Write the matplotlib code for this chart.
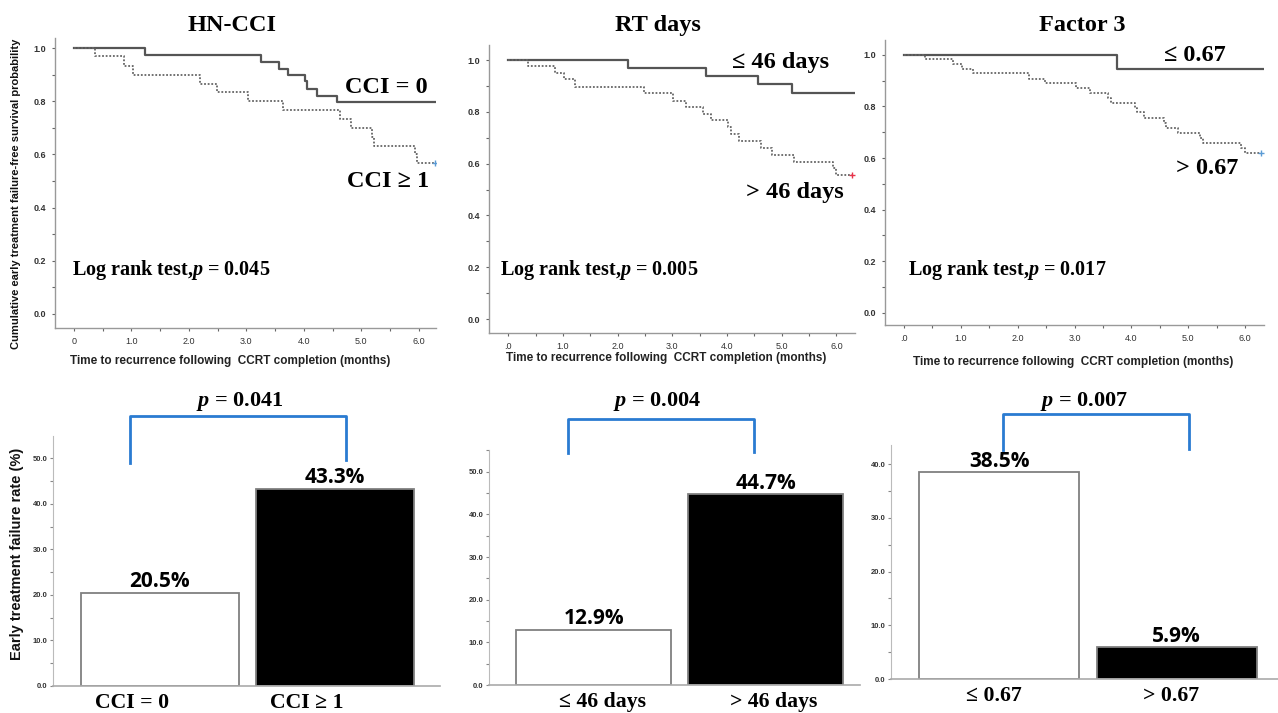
import numpy as np
import matplotlib.pyplot as plt
from matplotlib.lines import Line2D

plt.rcParams["mathtext.fontset"] = "custom"
plt.rcParams["mathtext.it"] = "Liberation Serif:italic:bold"
plt.rcParams["mathtext.rm"] = "Liberation Serif:bold"
plt.rcParams["mathtext.bf"] = "Liberation Serif:bold"

# Kaplan-Meier step data (time in months, survival probability)
hn_cci0_t = [0, 1.23, 3.26, 3.57, 3.73, 4.02, 4.06, 4.23, 4.57]
hn_cci0_s = [1.0, 0.974, 0.948, 0.922, 0.899, 0.876, 0.846, 0.82, 0.797]
hn_cci1_t = [0, 0.37, 0.87, 1.02, 2.2, 2.49, 3.02, 3.64, 4.63, 4.82, 5.19, 5.22, 5.93, 5.97]
hn_cci1_s = [1.0, 0.969, 0.934, 0.90, 0.866, 0.833, 0.80, 0.766, 0.733, 0.70, 0.666, 0.633, 0.60, 0.566]

rt_le_t = [0, 2.19, 3.62, 4.57, 5.19]
rt_le_s = [1.0, 0.969, 0.938, 0.907, 0.874]
rt_gt_t = [0, 0.37, 0.85, 1.02, 1.22, 2.48, 3.01, 3.26, 3.56, 3.71, 4.02, 4.07, 4.22, 4.63, 4.83, 5.23, 5.94, 5.99]
rt_gt_s = [1.0, 0.977, 0.951, 0.925, 0.896, 0.871, 0.843, 0.817, 0.792, 0.768, 0.74, 0.713, 0.687, 0.662, 0.633, 0.607, 0.582, 0.556]

f3_le_t = [0, 3.74]
f3_le_s = [1.0, 0.946]
f3_gt_t = [0, 0.37, 0.87, 1.02, 1.22, 2.2, 2.49, 3.03, 3.27, 3.59, 3.65, 4.06, 4.09, 4.23, 4.57, 4.61, 4.82, 5.2, 5.25, 5.93, 5.99]
f3_gt_s = [1.0, 0.983, 0.966, 0.946, 0.928, 0.907, 0.89, 0.871, 0.851, 0.832, 0.812, 0.793, 0.777, 0.754, 0.735, 0.715, 0.699, 0.677, 0.66, 0.638, 0.618]

# end of follow-up (solid line end, censored mark on dotted line)
solid_end = [6.3, 6.34, 6.33]
censor_end = [6.28, 6.28, 6.28]

# Bar chart data (early treatment failure rate, %)
hn_labels = ["CCI = 0", "CCI \u2265 1"]
hn_rates = [20.5, 43.3]
rt_labels = ["\u2264 46 days", "> 46 days"]
rt_rates = [12.9, 44.7]
f3_labels = ["\u2264 0.67", "> 0.67"]
f3_rates = [38.5, 5.9]

titles = ["HN-CCI", "RT days", "Factor 3"]
km_pvals = ["0.045", "0.005", "0.017"]
bar_pvals = ["0.041", "0.004", "0.007"]

W, H = 1278, 713
fig = plt.figure(figsize=(W / 100, H / 100), dpi=100)

SERIF = dict(family="Liberation Serif", weight="bold")
SANS = dict(family="Liberation Sans", weight="bold")
BLUE = "#2a7bd1"


def px_axes(l, t, r, b):
    return fig.add_axes([l / W, 1 - b / H, (r - l) / W, (b - t) / H])


def ftext(x, y, s, **kw):
    fig.text(x / W, 1 - y / H, s, **kw)


def km_panel(box, xlim, ylim, ta, sa, tb, sb, end_a, end_b, cens_color, zero_lab):
    ax = px_axes(*box)
    ax.step(ta + [end_a], sa + [sa[-1]], where="post", color="#555555", lw=1.6)
    ax.step(tb + [end_b], sb + [sb[-1]], where="post", color="#666666", lw=1.3,
            ls=(0, (1, 1)))
    ax.plot(end_b, sb[-1], marker="+", color=cens_color, ms=5, mew=1)
    ax.set_xlim(xlim)
    ax.set_ylim(ylim)
    ax.set_xticks(range(7))
    ax.set_xticklabels([zero_lab] + ["%.1f" % v for v in range(1, 7)])
    ax.set_xticks(np.arange(0.5, 6.5, 1), minor=True)
    ax.set_yticks(np.arange(0, 1.01, 0.2))
    ax.set_yticks(np.arange(0.1, 1.0, 0.2), minor=True)
    ax.yaxis.set_major_formatter("{x:.1f}")
    for s in ["top", "right"]:
        ax.spines[s].set_visible(False)
    for s in ["left", "bottom"]:
        ax.spines[s].set_color("#999999")
        ax.spines[s].set_linewidth(1.0)
    ax.tick_params(which="both", direction="out", length=2.5, width=0.8,
                   color="#666666", labelsize=6.5, labelcolor="#333333", pad=4)
    for lab in ax.get_xticklabels() + ax.get_yticklabels():
        lab.set_fontfamily("Liberation Sans")
    for lab in ax.get_yticklabels():
        lab.set_fontweight("bold")
    return ax


def bar_panel(box, xlim, ylim, yticks, values, labels, lab_off):
    ax = px_axes(*box)
    x = np.arange(len(values))
    ax.bar(x, values, width=0.9, color=["white", "black"], edgecolor="#808080", lw=1.3)
    ax.set_xlim(xlim)
    ax.set_ylim(ylim)
    ax.set_xticks([])
    ax.set_yticks(yticks)
    ax.set_yticks(np.arange(5, ylim[1], 10), minor=True)
    ax.yaxis.set_major_formatter("{x:.1f}")
    for s in ["top", "right"]:
        ax.spines[s].set_visible(False)
    ax.spines["left"].set_color("#bbbbbb")
    ax.spines["bottom"].set_color("#aaaaaa")
    ax.spines["bottom"].set_linewidth(1.2)
    ax.tick_params(which="both", direction="out", length=2, width=0.8,
                   color="#888888", labelsize=5.5, labelcolor="#333333", pad=2)
    for lab in ax.get_yticklabels():
        lab.set_fontfamily("Liberation Sans")
        lab.set_fontweight("bold")
    for i, v in enumerate(values):
        ax.annotate("%.1f%%" % v, xy=(i, v), xytext=(0, 4), textcoords="offset points",
                    ha="center", va="baseline", fontsize=15, family="Open Sans",
                    weight="bold")
        ax.annotate(labels[i], xy=(i + lab_off, 0), xycoords=("data", "axes fraction"),
                    xytext=(0, -16), textcoords="offset points", ha="center",
                    va="baseline", fontsize=15.7, **SERIF)
    return ax


def bracket(x0, x1, ytop, yl, yr, ptxt, px, py):
    fig.add_artist(Line2D([x0 / W, x0 / W, x1 / W, x1 / W],
                          [1 - yl / H, 1 - ytop / H, 1 - ytop / H, 1 - yr / H],
                          color=BLUE, lw=2))
    ftext(px, py, "$p$ = " + ptxt, ha="center", va="baseline", fontsize=16, **SERIF)


# ---- Kaplan-Meier panels ----
km_panel((55, 38, 436, 328), (-0.33, 6.3), (-0.053, 1.038),
         hn_cci0_t, hn_cci0_s, hn_cci1_t, hn_cci1_s, solid_end[0], censor_end[0],
         "#5b9bd5", "0")
km_panel((489, 45, 855, 333), (-0.35, 6.34), (-0.054, 1.058),
         rt_le_t, rt_le_s, rt_gt_t, rt_gt_s, solid_end[1], censor_end[1],
         "#e8334a", ".0")
km_panel((885, 40, 1264, 325), (-0.33, 6.33), (-0.048, 1.058),
         f3_le_t, f3_le_s, f3_gt_t, f3_gt_s, solid_end[2], censor_end[2],
         "#5b9bd5", ".0")

# titles
for cx, t in zip([232, 658, 1082], titles):
    ftext(cx, 31, t, ha="center", va="baseline", fontsize=17.5, **SERIF)

# curve labels
ftext(345, 93, "CCI = 0", va="baseline", fontsize=17.5, **SERIF)
ftext(347, 187, "CCI \u2265 1", va="baseline", fontsize=17.5, **SERIF)
ftext(732, 68, "\u2264 46 days", va="baseline", fontsize=17.5, **SERIF)
ftext(746, 198, "> 46 days", va="baseline", fontsize=17.5, **SERIF)
ftext(1164, 61, "\u2264 0.67", va="baseline", fontsize=17.5, **SERIF)
ftext(1176, 174, "> 0.67", va="baseline", fontsize=17.5, **SERIF)

for x0, pv in zip([72, 500, 908], km_pvals):
    ftext(x0, 275, "Log rank test,$p$ = " + pv, va="baseline", fontsize=14.5, **SERIF)

for cx, cy in [(230, 361), (666, 358), (1073, 362)]:
    ftext(cx, cy, "Time to recurrence following  CCRT completion (months)",
          ha="center", va="center", fontsize=8.5, color="#222222", **SANS)

ftext(16, 194, "Cumulative early treatment failure-free survival probability",
      rotation=90, ha="center", va="center", fontsize=8, color="#111111", **SANS)

# ---- bar panels ----
bar_panel((53, 436, 440, 686), (-0.61, 1.6), (0, 54.9), np.arange(0, 51, 10),
          hn_rates, hn_labels, -0.16)
bar_panel((489, 450, 860, 685), (-0.61, 1.55), (0, 55.1), np.arange(0, 51, 10),
          rt_rates, rt_labels, 0.05)
bar_panel((891, 445, 1278, 679), (-0.61, 1.57), (0, 43.6), np.arange(0, 41, 10),
          f3_rates, f3_labels, -0.03)

ftext(17, 554, "Early treatment failure rate (%)", rotation=90, ha="center",
      va="center", fontsize=10.5, color="#111111", **SANS)

bracket(130, 346, 416, 463, 460, bar_pvals[0], 240, 406)
bracket(568, 754, 419, 453, 452, bar_pvals[1], 657, 406)
bracket(1003, 1189, 414, 450, 449, bar_pvals[2], 1084, 406)

fig.savefig("out.png", dpi=100)
